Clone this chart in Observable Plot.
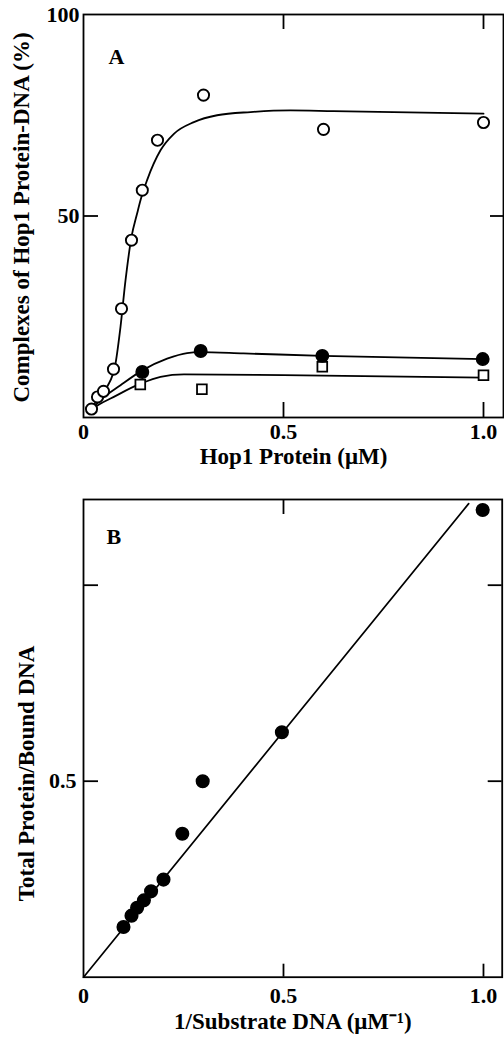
<!DOCTYPE html>
<html><head><meta charset="utf-8">
<script src="https://cdn.jsdelivr.net/npm/d3@7"></script>
<script src="https://cdn.jsdelivr.net/npm/@observablehq/plot@0.6"></script>
<style>
body{margin:0;background:#fff;}
#chart svg{display:block;}
</style></head><body><div id="chart"></div>
<script>
const FONT = "'Liberation Serif','Times New Roman',Times,serif";

// ---------- Panel A data ----------
const hop1Open = [0.02, 0.035, 0.05, 0.075, 0.095, 0.12, 0.147, 0.185, 0.30, 0.60, 1.0];
const complexOpen = [2.1, 5.1, 6.5, 12, 27, 44, 56.4, 68.8, 80, 71.5, 73.2];
const hop1Filled = [0.147, 0.293, 0.597, 0.998];
const complexFilled = [11.3, 16.5, 15.3, 14.5];
const hop1Square = [0.142, 0.296, 0.597, 1.0];
const complexSquare = [8.2, 7.0, 12.6, 10.5];
// fitted curves
const curveOpenX = [0.013, 0.034, 0.059, 0.08, 0.0925, 0.105, 0.12, 0.134, 0.1425, 0.159, 0.1925, 0.226, 0.276, 0.334, 0.4175, 0.5175, 0.625, 1.0];
const curveOpenY = [1.4, 4.3, 7.6, 13.4, 22.5, 34, 44.8, 50.6, 53.9, 58.9, 66.3, 70.4, 73.3, 75, 75.8, 76.2, 76, 75.4];
const curveFilledX = [0.02, 0.0425, 0.0925, 0.147, 0.209, 0.259, 0.29, 0.4, 0.597, 1.0];
const curveFilledY = [2.0, 4.3, 8.0, 11.7, 14.6, 16.0, 16.2, 15.9, 15.3, 14.5];
const curveSquareX = [0.02, 0.04, 0.0675, 0.1425, 0.1925, 0.251, 0.5, 1.0];
const curveSquareY = [2.0, 3.3, 4.7, 8.4, 10.1, 10.7, 10.5, 9.9];
const aXTicks = [0, 0.5, 1.0];
const aYTicks = [50, 100];

// ---------- Panel B data ----------
const invSubstrate = [0.10, 0.12, 0.134, 0.151, 0.169, 0.20, 0.247, 0.298, 0.496, 0.998];
const proteinPerBound = [0.128, 0.157, 0.177, 0.196, 0.219, 0.249, 0.366, 0.5, 0.625, 1.192];
const fitLineX = [0, 0.963];
const fitLineY = [0, 1.208];
const bXTicks = [0, 0.5, 1.0];
const bYTicks = [0.5];
const bYMinorTicks = [0.5, 1.0];

const fmtX = d => d === 0 ? "0" : d.toFixed(1);
const toPts = (xs, ys) => xs.map((x, i) => ({x, y: ys[i]}));

const style = {fontFamily: FONT, fontSize: "22px", fontWeight: "bold", background: "white", overflow: "visible", color: "black"};
const SW = 1.8, TL = 15, TITLE = 23;

// ---------- Panel A ----------
const aW = 504, aH = 480, aML = 83, aMR = 1, aMT = 14, aMB = 63;
const aFW = aW - aML - aMR, aFH = aH - aMT - aMB;
const plotA = Plot.plot({
  width: aW, height: aH, marginLeft: aML, marginRight: aMR, marginTop: aMT, marginBottom: aMB,
  style,
  x: {domain: [0, 1.05], axis: null},
  y: {domain: [0, 100], axis: null},
  marks: [
    Plot.frame({stroke: "black", strokeWidth: SW}),
    Plot.ruleX(aXTicks.filter(d => d > 0), {insetTop: aFH - TL, stroke: "black", strokeWidth: SW}),
    Plot.ruleX(aXTicks.filter(d => d > 0), {insetBottom: aFH - TL, stroke: "black", strokeWidth: SW}),
    Plot.ruleY([50], {insetRight: aFW - TL, stroke: "black", strokeWidth: SW}),
    Plot.ruleY([50], {insetLeft: aFW - 13, stroke: "black", strokeWidth: SW}),
    Plot.axisX({ticks: aXTicks, tickSize: 0, tickPadding: 6, tickFormat: fmtX, label: null}),
    Plot.axisY({ticks: aYTicks, tickSize: 0, tickPadding: 4, tickFormat: d => String(d), label: null}),
    Plot.line(toPts(curveOpenX, curveOpenY), {x: "x", y: "y", curve: "monotone-x", stroke: "black", strokeWidth: SW}),
    Plot.line(toPts(curveFilledX, curveFilledY), {x: "x", y: "y", curve: "monotone-x", stroke: "black", strokeWidth: SW}),
    Plot.line(toPts(curveSquareX, curveSquareY), {x: "x", y: "y", curve: "monotone-x", stroke: "black", strokeWidth: SW}),
    Plot.dot(toPts(hop1Square, complexSquare), {x: "x", y: "y", symbol: "square", r: 5.5, fill: "white", stroke: "black", strokeWidth: 1.8}),
    Plot.dot(toPts(hop1Filled, complexFilled), {x: "x", y: "y", r: 6.2, fill: "black", stroke: "black"}),
    Plot.dot(toPts(hop1Open, complexOpen), {x: "x", y: "y", r: 5.6, fill: "white", stroke: "black", strokeWidth: 1.9}),
    Plot.text(["A"], {frameAnchor: "top-left", dx: 25, dy: 34, fontSize: 22, fontWeight: "bold"}),
    Plot.text(["Hop1 Protein (μM)"], {frameAnchor: "bottom", dy: 46, fontSize: TITLE, fontWeight: "bold"}),
    Plot.text(["Complexes of Hop1 Protein-DNA (%)"], {frameAnchor: "left", textAnchor: "middle", dx: -62, dy: 1.5, rotate: -90, fontSize: TITLE, fontWeight: "bold"})
  ]
});

// ---------- Panel B ----------
const bW = 504, bH = 564, bML = 83, bMR = 2.3, bMT = 19, bMB = 67.3;
const bFW = bW - bML - bMR, bFH = bH - bMT - bMB;
const plotB = Plot.plot({
  width: bW, height: bH, marginLeft: bML, marginRight: bMR, marginTop: bMT, marginBottom: bMB,
  style,
  x: {domain: [0, 1.0468], axis: null},
  y: {domain: [0, 1.2186], axis: null},
  marks: [
    Plot.frame({stroke: "black", strokeWidth: SW}),
    Plot.ruleX(bXTicks.filter(d => d > 0), {insetTop: bFH - 13, stroke: "black", strokeWidth: SW}),
    Plot.ruleX([0.5], {insetBottom: bFH - TL, stroke: "black", strokeWidth: SW}),
    Plot.ruleY(bYMinorTicks, {insetRight: bFW - TL, stroke: "black", strokeWidth: SW}),
    Plot.ruleY(bYMinorTicks, {insetLeft: bFW - 14, stroke: "black", strokeWidth: SW}),
    Plot.axisX({ticks: bXTicks, tickSize: 0, tickPadding: 10, tickFormat: fmtX, label: null}),
    Plot.axisY({ticks: bYTicks, tickSize: 0, tickPadding: 7, tickFormat: d => d.toFixed(1), label: null}),
    Plot.line(toPts(fitLineX, fitLineY), {x: "x", y: "y", stroke: "black", strokeWidth: 1.7}),
    Plot.dot(toPts(invSubstrate, proteinPerBound), {x: "x", y: "y", r: 6.3, fill: "black", stroke: "black"}),
    Plot.text(["B"], {frameAnchor: "top-left", dx: 23, dy: 29, fontSize: 22, fontWeight: "bold"}),
    Plot.text(["1/Substrate DNA (μM⁻¹)"], {frameAnchor: "bottom", dy: 52, fontSize: TITLE, fontWeight: "bold"}),
    Plot.text(["Total Protein/Bound DNA"], {frameAnchor: "left", textAnchor: "middle", dx: -57, dy: 35, rotate: -90, fontSize: TITLE, fontWeight: "bold"})
  ]
});

document.getElementById("chart").append(plotA, plotB);
</script></body></html>
